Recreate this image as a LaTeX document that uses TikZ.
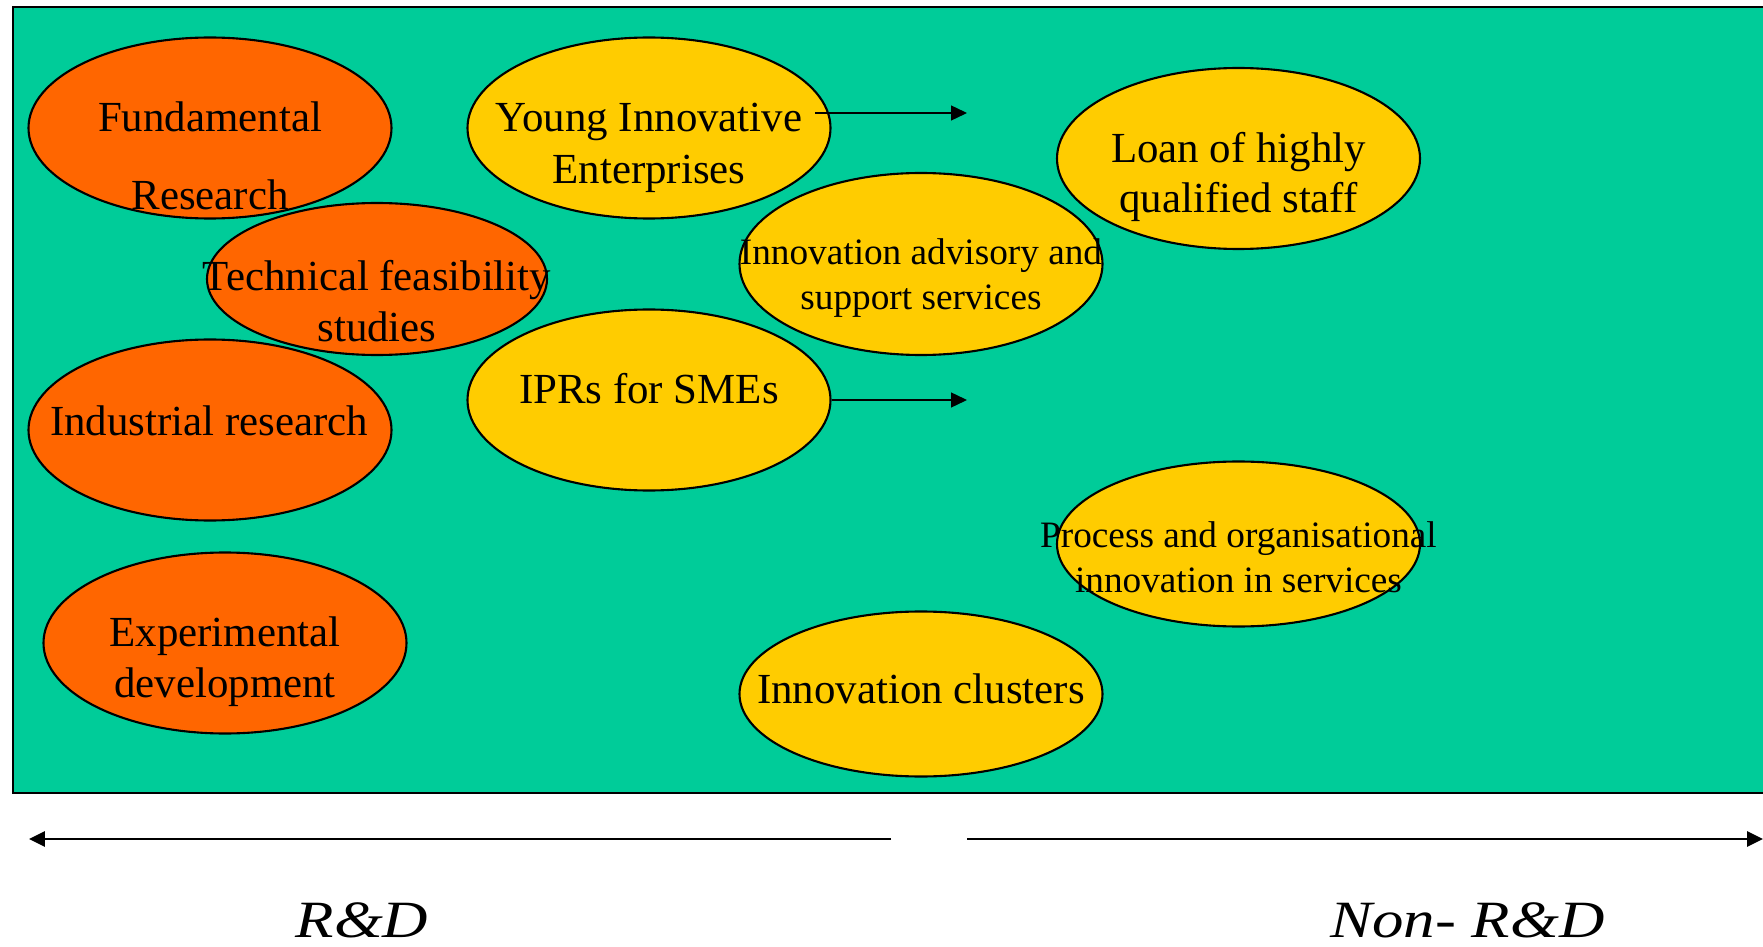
\documentclass[tikz,border=0pt]{standalone}
\usepackage{fontspec}
\setmainfont{Liberation Serif}
\usetikzlibrary{shapes.geometric,arrows.meta}
\definecolor{panelgreen}{RGB}{0,204,153}
\definecolor{rdorange}{RGB}{255,102,0}
\definecolor{nonrdyellow}{RGB}{255,204,0}

\begin{document}
\begin{tikzpicture}[
  blob/.style={ellipse, draw=black, line width=0.6pt, inner sep=0pt, minimum width=3.63cm, minimum height=1.81cm},
  rdblob/.style={blob, fill=rdorange},
  nrdblob/.style={blob, fill=nonrdyellow},
  bigtxt/.style={anchor=base, align=center, inner sep=0pt, font=\fontsize{12.2}{14.5}\selectfont},
  smalltxt/.style={anchor=base, align=center, inner sep=0pt, font=\fontsize{10.6}{12.7}\selectfont},
  axislabel/.style={anchor=base, inner sep=0pt, font=\fontsize{14.9}{17}\selectfont\itshape},
  thinarrow/.style={-{Triangle[length=1.6mm,width=1.5mm]}, line width=0.4pt},
  axisarrow/.style={-{Triangle[length=1.6mm,width=1.5mm]}, line width=0.85pt}
]
\useasboundingbox (0,0) rectangle (17.63,9.46);

% green panel
\draw[fill=panelgreen, line width=0.5pt] (0.13,1.53) rectangle (17.8,9.387);

% R&D side (text nodes sit on the baseline of their last line)
\node[rdblob] (fund) at (2.10,8.18) {};
\node[bigtxt] (fundtxt) at (2.10,7.36) {Fundamental\\[7.7pt]Research};

\node[rdblob, minimum width=3.40cm, minimum height=1.52cm] (tech) at (3.77,6.67) {};
\node[bigtxt] (techtxt) at (3.77,6.045) {Technical feasibility\\studies};

\node[rdblob] (ind) at (2.10,5.16) {};
\node[bigtxt] (indtxt) at (2.09,5.11) {Industrial research};

\node[rdblob] (exp) at (2.25,3.03) {};
\node[bigtxt] (exptxt) at (2.25,2.49) {Experimental\\development};

% non R&D side
\node[nrdblob] (yie) at (6.49,8.18) {};
\node[bigtxt] (yietxt) at (6.49,7.62) {Young Innovative\\[0.3pt]Enterprises};

\node[nrdblob, minimum height=1.82cm] (adv) at (9.21,6.82) {};
\node[smalltxt] (advtxt) at (9.21,6.37) {Innovation advisory and\\support services};

\node[nrdblob] (ipr) at (6.49,5.46) {};
\node[bigtxt] (iprtxt) at (6.49,5.42) {IPRs for SMEs};

\node[nrdblob] (loan) at (12.385,7.875) {};
\node[bigtxt] (loantxt) at (12.385,7.33) {Loan of highly\\qualified staff};

\node[nrdblob, minimum height=1.65cm] (proc) at (12.385,4.02) {};
\node[smalltxt] (proctxt) at (12.385,3.54) {Process and organisational\\innovation in services};

\node[nrdblob, minimum height=1.65cm] (clus) at (9.21,2.52) {};
\node[bigtxt] (clustxt) at (9.21,2.425) {Innovation clusters};

% small arrows
\coordinate (yiestart) at (8.15,8.33);
\coordinate (yieend) at (9.67,8.33);
\coordinate (iprend) at (9.67,5.46);
\draw[thinarrow] (yiestart) -- (yieend);
\draw[thinarrow] (ipr.east) -- (iprend);

% axis
\coordinate (rdstart) at (8.91,1.07);
\coordinate (rdend) at (0.29,1.07);
\coordinate (nonrdstart) at (9.67,1.07);
\coordinate (nonrdend) at (17.63,1.07);
\draw[axisarrow] (rdstart) -- (rdend);
\draw[axisarrow] (nonrdstart) -- (nonrdend);

\node[axislabel] (rdlabel) at (3.62,0.09) {\scalebox{1.2}[1]{R\&D}};
\node[axislabel] (nonrdlabel) at (14.675,0.09) {\scalebox{1.2}[1]{Non- R\&D}};
\end{tikzpicture}
\end{document}
